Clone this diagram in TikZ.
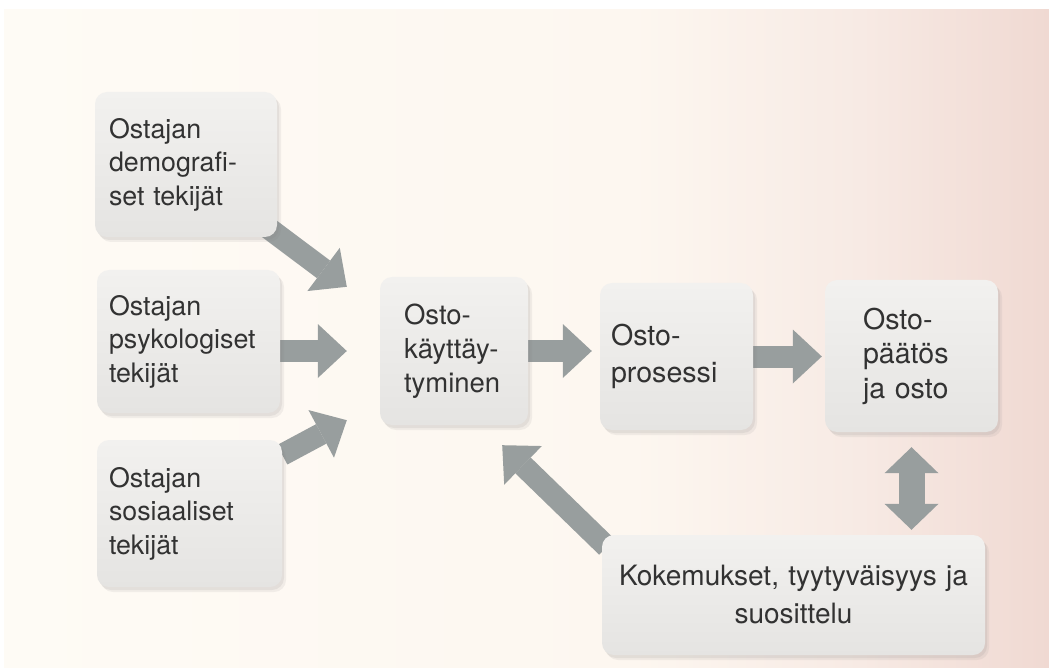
\documentclass[tikz,border=0pt]{standalone}
\usepackage{fontspec}
\setmainfont{TeX Gyre Heros}
\usetikzlibrary{arrows.meta,shadows,calc}
\pgfdeclarelayer{pagebg}
\pgfdeclarelayer{arrowlayer}
\pgfsetlayers{pagebg,arrowlayer,main}
\definecolor{boxtop}{RGB}{242,241,239}
\definecolor{boxbot}{RGB}{229,228,226}
\definecolor{arrowgray}{RGB}{152,158,158}
\definecolor{txt}{RGB}{50,50,50}
\definecolor{pageL}{RGB}{254,251,245}
\definecolor{pageM}{RGB}{253,247,240}
\definecolor{pageX}{RGB}{247,234,228}
\definecolor{pageR}{RGB}{240,217,210}
\pgfdeclarehorizontalshading{pagegrad}{100bp}{color(0bp)=(pageL); color(25bp)=(pageL); color(55bp)=(pageM); color(66bp)=(pageX); color(75bp)=(pageR); color(100bp)=(pageR)}
\begin{document}
\begin{tikzpicture}[x=1pt,y=-1pt,
  box/.style={rounded corners=12pt, top color=boxtop, bottom color=boxbot, draw=none,
    text=txt, font=\fontsize{26.8}{33.5}\selectfont, inner ysep=0pt,
    drop shadow={opacity=0.10, shadow xshift=4pt, shadow yshift=-5pt},
    drop shadow={opacity=0.12, shadow xshift=2pt, shadow yshift=-3pt}},
  bigarrow/.style={draw=arrowgray, line width=22pt,
    -{Triangle[length=29pt,width=54pt,line width=0pt]}},
  dblarrow/.style={draw=arrowgray, line width=26pt,
    {Triangle[length=26pt,width=54pt,line width=0pt]}-{Triangle[length=26pt,width=54pt,line width=0pt]}}
]
\useasboundingbox (0,0) rectangle (1049,668);
\begin{pgfonlayer}{pagebg}
  \fill[white] (0,0) rectangle (1049,668);
  \shade[shading=pagegrad] (4,10) rectangle (1049,668);
\end{pgfonlayer}

\node[box, minimum width=182pt, minimum height=145pt, text width=154pt, inner xsep=14pt, align=left]
  (demog) at (186,164.5) {Ostajan\\demografi-\\set tekijät};
\node[box, minimum width=183pt, minimum height=143pt, text width=159pt, inner xsep=12pt, align=left]
  (psych) at (188.5,341.5) {Ostajan\\psykologiset\\tekijät};
\node[box, minimum width=185pt, minimum height=147pt, text width=161pt, inner xsep=12pt, align=left]
  (sosial) at (189.5,513.5) {Ostajan\\sosiaaliset\\tekijät};
\node[box, font=\fontsize{27.5}{34}\selectfont, minimum width=148pt, minimum height=148pt, text width=100pt, inner xsep=24pt, align=left]
  (osto) at (454,351) {Osto-\\käyttäy-\\tyminen};
\node[box, font=\fontsize{28.6}{37}\selectfont, minimum width=153pt, minimum height=147pt, text width=131pt, inner xsep=11pt, align=left]
  (prosessi) at (676.5,356.5) {Osto-\\prosessi};
\node[box, font=\fontsize{28.6}{34.5}\selectfont, minimum width=173pt, minimum height=152pt, text width=97pt, inner xsep=38pt, align=left]
  (paatos) at (911.5,356) {Osto-\\päätös\\ja osto};
\node[box, font=\fontsize{28}{38}\selectfont, minimum width=383pt, minimum height=120pt, text width=363pt, inner xsep=10pt, align=center]
  (kok) at (793.5,595) {Kokemukset, tyytyväisyys ja\\suosittelu};

\begin{pgfonlayer}{arrowlayer}
  \draw[bigarrow] ([xshift=-10pt,yshift=10pt]demog.south east) -- ([xshift=-33pt,yshift=-10pt]osto.north west);
  \draw[bigarrow] (psych.east |- osto.west) -- ([xshift=-33pt]osto.west);
  \draw[bigarrow] ([yshift=-15pt]sosial.north east) -- ([xshift=-33pt,yshift=5pt]osto.south west);
  \draw[bigarrow] (osto.east) -- ([xshift=-8pt]osto.east -| prosessi.west);
  \draw[bigarrow] (prosessi.east) -- ([xshift=-3pt]prosessi.east -| paatos.west);
  \draw[dblarrow] ([yshift=-15pt]paatos.south) -- ([yshift=5pt]paatos.south |- kok.north);
  \draw[bigarrow] ([xshift=5pt,yshift=-12pt]kok.north west) -- ([xshift=-26pt,yshift=-20pt]osto.south east);
\end{pgfonlayer}
\end{tikzpicture}
\end{document}
